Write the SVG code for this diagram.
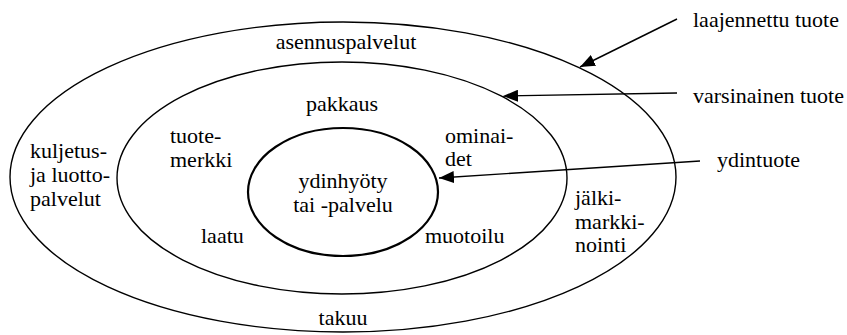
<svg xmlns="http://www.w3.org/2000/svg" width="847" height="335" viewBox="0 0 847 335">
  <style>
    .lbl { font-family: "Liberation Serif", "Times New Roman", serif; font-size: 22px; fill: #000; }
    .ring { fill: none; stroke: #000; stroke-width: 1.4; }
    .core { fill: none; stroke: #000; stroke-width: 2.2; }
    .lead { fill: none; stroke: #000; stroke-width: 1.4; }
    .mid { text-anchor: middle; }
  </style>
  <defs>
    <marker id="head" markerUnits="userSpaceOnUse" markerWidth="16" markerHeight="12" refX="15" refY="6" orient="auto">
      <path d="M0,0 L15,6 L0,12 z" fill="#000"/>
    </marker>
  </defs>
  <rect width="847" height="335" fill="#fff"/>

  <!-- augmented product: outer ring -->
  <g id="laajennettu">
    <ellipse class="ring" cx="343" cy="177" rx="333" ry="155"/>
    <text class="lbl mid" x="346" y="49">asennuspalvelut</text>
    <text class="lbl" x="30" y="158">kuljetus-</text>
    <text class="lbl" x="30" y="182">ja luotto-</text>
    <text class="lbl" x="30" y="206">palvelut</text>
    <text class="lbl" x="575" y="205">jälki-</text>
    <text class="lbl" x="575" y="229">markki-</text>
    <text class="lbl" x="575" y="252">nointi</text>
    <text class="lbl mid" x="343" y="325">takuu</text>
  </g>

  <!-- actual product: middle ring -->
  <g id="varsinainen">
    <ellipse class="ring" cx="342" cy="178" rx="225" ry="116"/>
    <text class="lbl mid" x="342" y="111">pakkaus</text>
    <text class="lbl" x="170" y="143">tuote-</text>
    <text class="lbl" x="170" y="167">merkki</text>
    <text class="lbl" x="445" y="143">ominai-</text>
    <text class="lbl" x="445" y="166">det</text>
    <text class="lbl" x="201" y="243">laatu</text>
    <text class="lbl" x="425" y="243">muotoilu</text>
  </g>

  <!-- core product -->
  <g id="ydin">
    <ellipse class="core" cx="343" cy="192" rx="95" ry="64"/>
    <text class="lbl mid" x="343" y="188">ydinhyöty</text>
    <text class="lbl mid" x="343" y="212">tai -palvelu</text>
  </g>

  <!-- captions -->
  <g id="label-laajennettu"><text class="lbl" x="693" y="27">laajennettu tuote</text></g>
  <g id="label-varsinainen"><text class="lbl" x="693" y="103">varsinainen tuote</text></g>
  <g id="label-ydintuote"><text class="lbl" x="717" y="167">ydintuote</text></g>

  <!-- pointer lines -->
  <g id="connectors">
    <line class="lead" x1="677" y1="19" x2="580" y2="67" marker-end="url(#head)"/>
    <line class="lead" x1="677" y1="93" x2="503" y2="96" marker-end="url(#head)"/>
    <line class="lead" x1="700" y1="161" x2="439" y2="178" marker-end="url(#head)"/>
  </g>
</svg>
